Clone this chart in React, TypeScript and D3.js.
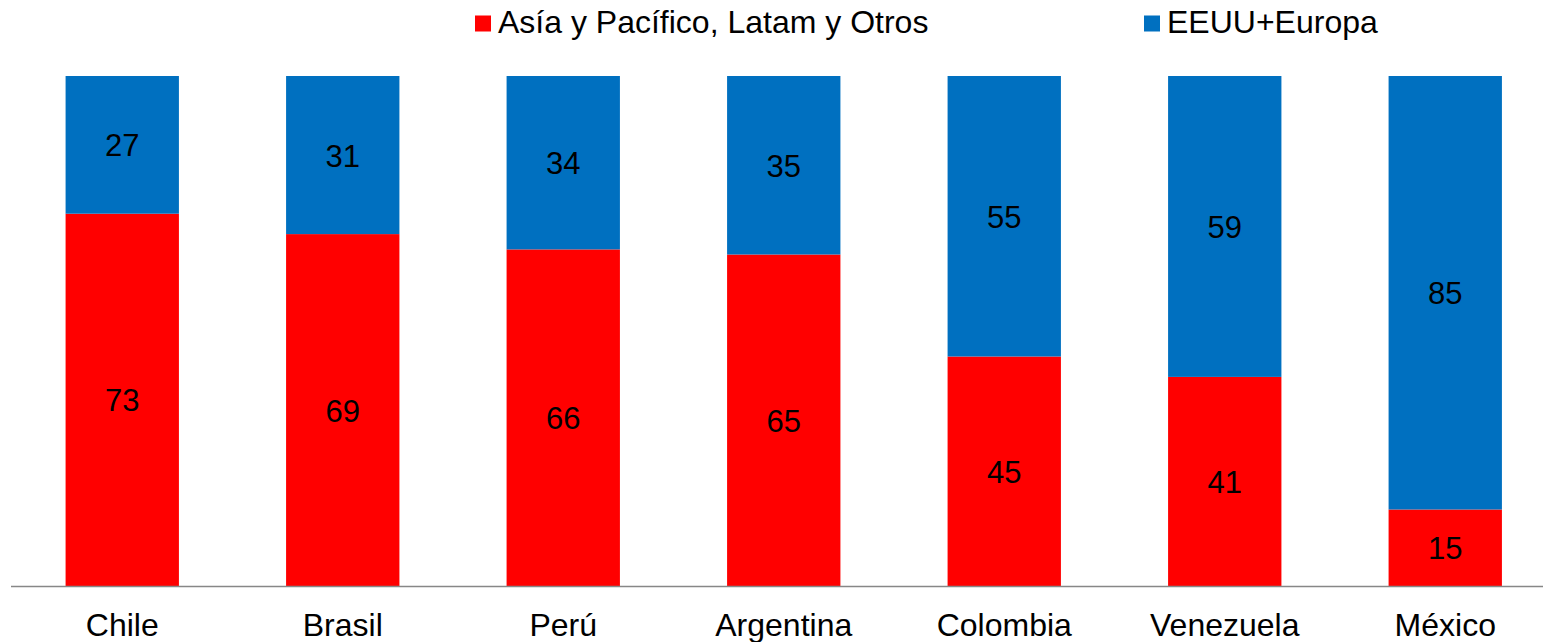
import React from "react";
import * as d3 from "d3";

const categories = ["Chile", "Brasil", "Perú", "Argentina", "Colombia", "Venezuela", "México"];
const asiaLatam = [73, 69, 66, 65, 45, 41, 15];
const usEurope = [27, 31, 34, 35, 55, 59, 85];
const seriesNames = ["Asía y Pacífico, Latam y Otros", "EEUU+Europa"];
const seriesColors = ["#FF0000", "#0070C0"];

const W = 1543;
const H = 642;
const FONT = "Arial, 'Liberation Sans', Helvetica, sans-serif";

export default function App() {
  const x = d3
    .scaleBand<string>()
    .domain(categories)
    .range([12, 12 + 7 * 220.5])
    .paddingInner(0.486)
    .paddingOuter(0.243);
  const y = d3.scaleLinear().domain([0, 100]).range([586, 76]);

  const rows = categories.map((c, i) => ({ cat: c, a: asiaLatam[i], b: usEurope[i] }));
  const stack = d3.stack<any>().keys(["a", "b"])(rows);

  const legendX = [475, 1144];

  return (
    <svg
      width={W}
      height={H}
      style={{ position: "absolute", left: 0, top: 0, background: "#fff" }}
      fontFamily={FONT}
    >
      {stack.map((layer, si) => (
        <g key={si}>
          {layer.map((d, i) => {
            const x0 = x(categories[i])!;
            const yTop = y(d[1]);
            const yBot = y(d[0]);
            const val = d[1] - d[0];
            return (
              <g key={i}>
                <rect x={x0} y={yTop} width={x.bandwidth()} height={yBot - yTop} fill={seriesColors[si]} />
                <text
                  x={x0 + x.bandwidth() / 2}
                  y={(yTop + yBot) / 2 + 11.5}
                  textAnchor="middle"
                  fontSize={31}
                  fill="#000"
                >
                  {val}
                </text>
              </g>
            );
          })}
        </g>
      ))}
      <line x1={11} x2={W} y1={586.5} y2={586.5} stroke="#878787" strokeWidth={1.5} />
      {categories.map((c) => (
        <text
          key={c}
          x={x(c)! + x.bandwidth() / 2}
          y={636}
          textAnchor="middle"
          fontSize={32}
          fill="#000"
        >
          {c}
        </text>
      ))}
      {seriesNames.map((n, i) => (
        <g key={n}>
          <rect x={legendX[i]} y={15.5} width={16} height={16} fill={seriesColors[i]} />
          <text x={legendX[i] + 23} y={33} fontSize={32} fill="#000">
            {n}
          </text>
        </g>
      ))}
    </svg>
  );
}
